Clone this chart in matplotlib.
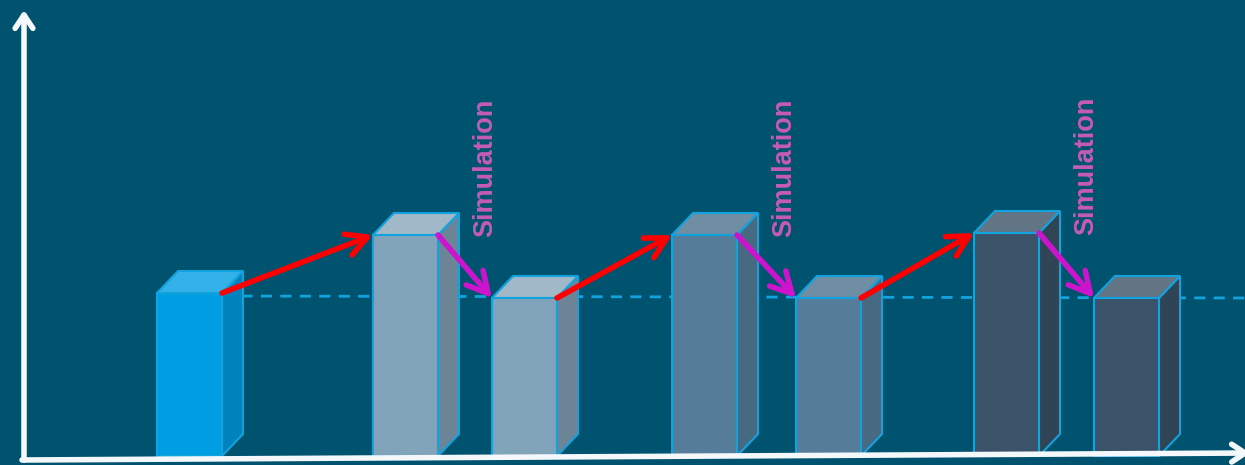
import matplotlib.pyplot as plt
from matplotlib.patches import Rectangle, Polygon

# stages of the process: first is the initial state, then pairs of (grow, simulate)
stages = ['start', 'step1', 'sim1', 'step2', 'sim2', 'step3', 'sim3']
stage_x = [157, 373, 492, 672, 796, 974, 1094]
heights = [163, 221, 158, 221, 158, 223, 158]
ref_level = 160
label = 'Simulation'

front_colors = ['#009fe3', '#82a4bb', '#82a4bb', '#557c98', '#557c98', '#3a5369', '#3a5369']
side_colors = ['#0082bd', '#6b8596', '#6b8596', '#466a82', '#466a82', '#2f4454', '#2f4454']
top_colors = ['#35b1ea', '#a0b8c8', '#a0b8c8', '#6f8ea3', '#6f8ea3', '#627585', '#627585']
edge = '#12a3df'
bg = '#00536e'

bar_w = 65
dx, dy = 21, 22

fig = plt.figure(figsize=(12.45, 4.65), dpi=100)
fig.patch.set_facecolor(bg)
ax = fig.add_axes([0, 0, 1, 1])
ax.set_facecolor(bg)
ax.set_xlim(0, 1245)
ax.set_ylim(-9, 456)
ax.axis('off')

# reference dashed line from the first bar
ax.plot([stage_x[0] + bar_w, 1245], [ref_level, ref_level - 2], ls=(0, (4, 3)),
        color=edge, lw=2, zorder=1)

for x, h, fc, sc, tc in zip(stage_x, heights, front_colors, side_colors, top_colors):
    ax.add_patch(Polygon([(x + bar_w, 0), (x + bar_w + dx, dy), (x + bar_w + dx, h + dy), (x + bar_w, h)],
                         closed=True, facecolor=sc, edgecolor=edge, lw=1.5, zorder=2))
    ax.add_patch(Polygon([(x, h), (x + dx, h + dy), (x + bar_w + dx, h + dy), (x + bar_w, h)],
                         closed=True, facecolor=tc, edgecolor=edge, lw=1.5, zorder=2))
    ax.add_patch(Rectangle((x, 0), bar_w, h, facecolor=fc, edgecolor=edge, lw=1.5, zorder=3))

# arrows between consecutive bars
for i in range(len(stages) - 1):
    start = (stage_x[i] + bar_w, heights[i])
    end = (stage_x[i + 1], heights[i + 1])
    col = '#ff0000' if i % 2 == 0 else '#cc14cc'
    ax.annotate('', xy=end, xytext=start, zorder=5,
                arrowprops=dict(arrowstyle='->,head_length=0.75,head_width=0.4', color=col,
                                lw=4, shrinkA=0, shrinkB=0, mutation_scale=20))
    if i % 2 == 1:
        ax.text(stage_x[i] + bar_w + 47, heights[i] - 2, label, rotation=90, ha='center', va='bottom',
                color='#c65bb4', fontsize=19.5, fontweight='bold', family=['Liberation Sans', 'DejaVu Sans'],
                zorder=4)

# axes arrows
ax.annotate('', xy=(24, 446), xytext=(24, -4), annotation_clip=False,
            arrowprops=dict(arrowstyle='->,head_length=0.6,head_width=0.4', color='#f4f8fb',
                            lw=4, shrinkA=0, shrinkB=0, mutation_scale=16))
ax.annotate('', xy=(1250, 3), xytext=(22, -4), annotation_clip=False,
            arrowprops=dict(arrowstyle='->,head_length=0.6,head_width=0.4', color='#f4f8fb',
                            lw=4, shrinkA=0, shrinkB=0, mutation_scale=16))

plt.savefig('out.png', dpi=100, facecolor=bg)
